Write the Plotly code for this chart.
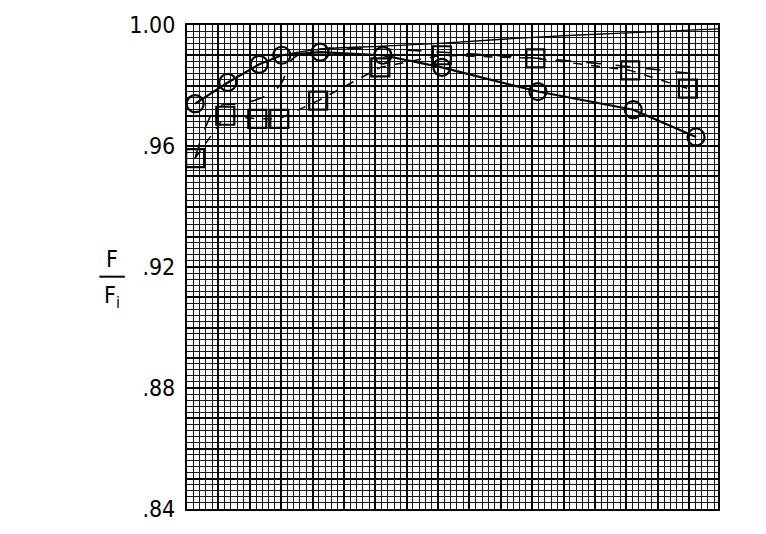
import plotly.graph_objects as go

# Horizontal positions are measured in chart-paper divisions (no scale is printed).
x_circle = [1.3, 6.5, 11.5, 15.1, 21.2, 31.2, 40.6, 55.9, 71.1, 81.1]
f_circle = [0.974, 0.981, 0.987, 0.990, 0.991, 0.990, 0.986, 0.978, 0.972, 0.963]

x_square = [1.3, 6.1, 11.2, 14.7, 20.9, 30.8, 40.6, 55.5, 70.6, 79.8]
f_square = [0.956, 0.970, 0.969, 0.969, 0.975, 0.986, 0.990, 0.989, 0.985, 0.979]

# faired curves
x_curve_dash = [1.3, 2.9, 4.9, 8.5, 12.0, 14.8, 16.9, 21.2, 31.2, 40.8, 55.8, 66.9, 80.2]
f_curve_dash = [0.956, 0.966, 0.973, 0.974, 0.976, 0.980, 0.989, 0.992, 0.992, 0.991, 0.989, 0.987, 0.984]

x_curve_thin = [15.1, 21.2, 31.2, 40.8, 55.8, 71.1, 84.6]
f_curve_thin = [0.990, 0.992, 0.993, 0.994, 0.996, 0.9975, 0.9987]

y_tick_values = [0.84, 0.88, 0.92, 0.96, 1.00]
y_tick_labels = [".84", ".88", ".92", ".96", "1.00"]

X_RANGE = [0, 84.6]
Y_RANGE = [0.84, 1.00]
INK = "#000000"
FONT = "DejaVu Sans Condensed, Liberation Sans Narrow, Arial Narrow, sans-serif"

fig = go.Figure()

fig.add_trace(go.Scatter(
    x=x_curve_thin, y=f_curve_thin, mode="lines",
    line=dict(color=INK, width=1.3, shape="spline"), showlegend=False))
fig.add_trace(go.Scatter(
    x=x_curve_dash, y=f_curve_dash, mode="lines",
    line=dict(color=INK, width=1.6, dash="longdash", shape="spline"), showlegend=False))
fig.add_trace(go.Scatter(
    x=x_square, y=f_square, mode="lines+markers",
    line=dict(color=INK, width=1.5, dash="dash"),
    marker=dict(symbol="square-open", size=18, color=INK, line=dict(width=2.2)),
    showlegend=False))
fig.add_trace(go.Scatter(
    x=x_circle, y=f_circle, mode="lines+markers",
    line=dict(color=INK, width=2.2),
    marker=dict(symbol="circle-open", size=17, color=INK, line=dict(width=2.2)),
    showlegend=False))

# empty traces so the overlay axes (extra paper ruling) are drawn
for xa, ya in (("x2", "y2"), ("x3", "y3")):
    fig.add_trace(go.Scatter(x=[None], y=[None], xaxis=xa, yaxis=ya,
                             showlegend=False, hoverinfo="skip"))


def ruling(dtick, tick0, rng, width, overlay):
    return dict(range=rng, overlaying=overlay, showticklabels=False, ticks="",
                zeroline=False, showgrid=True, dtick=dtick, tick0=tick0,
                gridcolor=INK, gridwidth=width, showline=False)


# chart-paper ruling: fine lines every division, medium every 5, heavy every 10
fig.update_layout(
    width=766, height=534,
    margin=dict(l=187, r=48, t=18, b=14),
    paper_bgcolor="white", plot_bgcolor="white",
    font=dict(family=FONT, size=22, color=INK),
    xaxis=dict(
        range=X_RANGE, showticklabels=False, ticks="", zeroline=False,
        showgrid=True, dtick=10, tick0=0, gridcolor=INK, gridwidth=1.9,
        minor=dict(dtick=1, tick0=0, showgrid=True, gridcolor="#151515", gridwidth=1.3),
        showline=True, linecolor=INK, linewidth=2.2, mirror=True,
    ),
    xaxis2=ruling(5, 0, X_RANGE, 1.6, "x"),
    xaxis3=ruling(10, 0, X_RANGE, 1.9, "x"),
    yaxis=dict(
        range=Y_RANGE, tickmode="array", tickvals=y_tick_values, ticktext=y_tick_labels,
        ticks="", zeroline=False, showgrid=True, gridcolor=INK, gridwidth=1.9,
        minor=dict(dtick=0.002, tick0=0.84, showgrid=True, gridcolor="#151515", gridwidth=1.3),
        showline=True, linecolor=INK, linewidth=2.2, mirror=True,
        tickfont=dict(family=FONT, size=23, color=INK), ticklabelstandoff=5,
        ticklabeloverflow="allow",
    ),
    yaxis2=ruling(0.01, 0.84, Y_RANGE, 1.6, "y"),
    yaxis3=ruling(0.02, 0.84, Y_RANGE, 1.9, "y"),
)

# axis title drawn as a stacked fraction F / F_i
fig.add_annotation(xref="paper", yref="paper", x=-0.141, y=0.486,
                   text="F", showarrow=False, xanchor="center", yanchor="bottom",
                   font=dict(family=FONT, size=23, color=INK))
fig.add_annotation(xref="paper", yref="paper", x=-0.141, y=0.474,
                   text="F<sub>i</sub>", showarrow=False, xanchor="center", yanchor="top",
                   font=dict(family=FONT, size=23, color=INK))
fig.add_shape(type="line", xref="paper", yref="paper",
              x0=-0.165, x1=-0.117, y0=0.480, y1=0.480,
              line=dict(color=INK, width=2))

fig.write_html("out.html")
